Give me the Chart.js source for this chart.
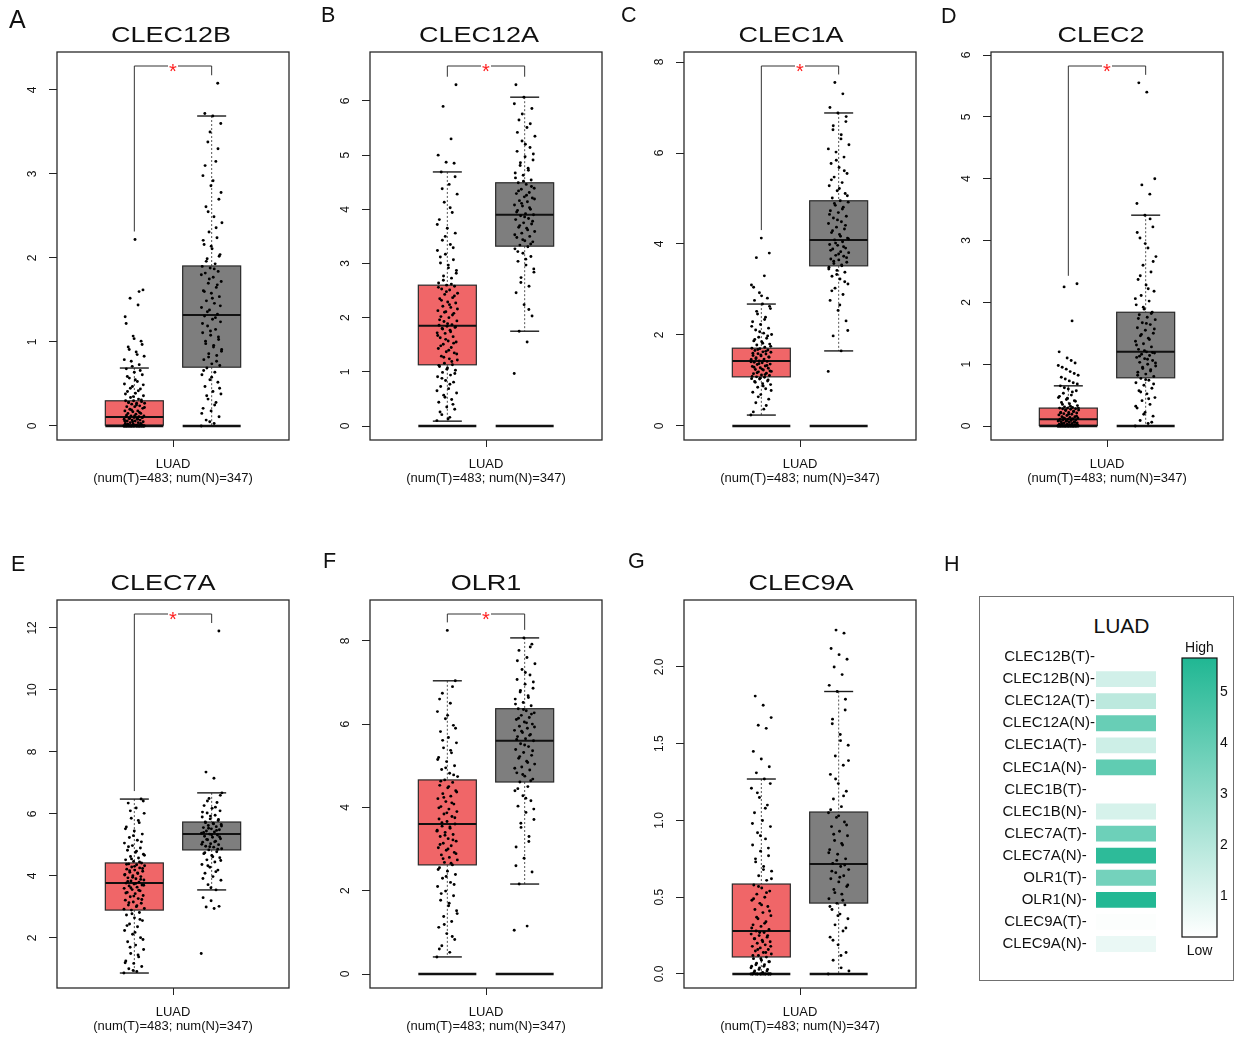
<!DOCTYPE html>
<html><head><meta charset="utf-8">
<script src="https://cdn.jsdelivr.net/npm/chart.js@4/dist/chart.umd.min.js"></script>
<style>
html,body{margin:0;padding:0;background:#fff}
body{width:1236px;height:1038px;overflow:hidden;position:relative;font-family:"Liberation Sans",Arial,Helvetica,sans-serif;color:#111}
canvas{position:absolute}
.t{position:absolute;white-space:nowrap;color:#111}
.hbox{position:absolute;border:1.5px solid #707070;box-sizing:border-box}
</style></head><body>
<script>
// ---------------- DATA ----------------
const genes = ['CLEC12B','CLEC12A','CLEC1A','CLEC2','CLEC7A','OLR1','CLEC9A'];
const panelLetters = ['A','B','C','D','E','F','G','H'];
const groupLabel = 'LUAD';
const countsLabel = '(num(T)=483; num(N)=347)';
const significant = [true,true,true,true,true,true,false];

// box statistics [lower whisker, Q1, median, Q3, upper whisker]
const boxT_CLEC12B = [0, 0.01, 0.107, 0.30, 0.69];
const boxN_CLEC12B = [0, 0.70, 1.32, 1.905, 3.69];
const boxT_CLEC12A = [0.09, 1.13, 1.85, 2.60, 4.69];
const boxN_CLEC12A = [1.75, 3.32, 3.90, 4.49, 6.07];
const boxT_CLEC1A = [0.24, 1.08, 1.43, 1.71, 2.68];
const boxN_CLEC1A = [1.65, 3.52, 4.09, 4.95, 6.88];
const boxT_CLEC2 = [0, 0.01, 0.11, 0.29, 0.65];
const boxN_CLEC2 = [0, 0.78, 1.20, 1.84, 3.41];
const boxT_CLEC7A = [0.87, 2.90, 3.77, 4.42, 6.48];
const boxN_CLEC7A = [3.55, 4.84, 5.35, 5.74, 6.68];
const boxT_OLR1 = [0.41, 2.62, 3.60, 4.66, 7.04];
const boxN_OLR1 = [2.16, 4.61, 5.60, 6.37, 8.07];
const boxT_CLEC9A = [0, 0.111, 0.28, 0.586, 1.27];
const boxN_CLEC9A = [0, 0.462, 0.717, 1.055, 1.84];

// individual sample values
const tumor_CLEC12B = [0,0,0,0,0,0,0,0,0,0,0,0,0,0,0,0,0,0,0,0,0,0,
 0.01,0.01,0.02,0.02,0.03,0.04,0.04,0.05,0.06,0.06,0.07,0.07,0.08,0.09,0.09,0.1,0.1,0.11,0.11,0.12,
 0.12,0.14,0.15,0.15,0.17,0.18,0.18,0.2,0.21,0.23,0.23,0.24,0.26,0.27,0.27,0.28,0.29,0.3,0.3,0.32,
 0.34,0.36,0.39,0.41,0.44,0.47,0.5,0.53,0.57,0.61,0.64,0.68,0.73,0.77,0.83,0.88,0.94,1.01,1.07,1.3,1.44,1.52,1.62,2.22,
 0,0,0,0,0,0,0,0,0,0,0,0,0.01,0.02,0.03,0.05,0.06,0.08,0.09,0.1,0.12,0.13,0.16,0.19,0.22,0.25,0.28,0.31,
 0.35,0.38,0.42,0.45,0.49,0.55,0.59,0.66,0.71,0.79,0.85,0.91,0.97,1.04,1.22,1.6];
const normal_CLEC12B = [0,0.03,0.07,0.11,0.18,0.21,0.28,0.32,0.38,0.41,0.47,0.52,0.55,0.61,0.64,0.69,
 0.72,0.74,0.79,0.84,0.86,0.91,0.96,0.98,1.03,1.08,1.11,1.15,1.19,1.24,1.27,1.31,
 1.33,1.38,1.41,1.46,1.49,1.54,1.58,1.61,1.65,1.7,1.72,1.77,1.82,1.84,1.88,1.9,
 1.93,1.99,2.04,2.11,2.16,2.24,2.31,2.42,2.49,2.61,2.7,2.86,2.98,3.15,3.38,3.6,3.69,3.72,4.08,
 0.05,0.15,0.25,0.36,0.45,0.58,0.66,0.77,0.82,0.89,0.94,1.01,1.06,1.13,1.22,1.29,1.36,1.43,1.52,1.6,
 1.68,1.75,1.8,1.87,1.96,2.02,2.14,2.21,2.36,2.55,2.78,2.92,3.1,3.3,3.5];
const tumor_CLEC12A = [0.1,0.16,0.21,0.31,0.35,0.44,0.49,0.57,0.61,0.69,0.73,0.81,0.84,0.91,0.94,0.99,1.03,1.07,1.1,1.13,
 1.16,1.22,1.24,1.29,1.35,1.37,1.43,1.45,1.51,1.55,1.57,1.63,1.65,1.71,1.72,1.77,1.8,1.82,1.84,1.86,
 1.87,1.93,1.94,2.0,2.02,2.08,2.11,2.13,2.19,2.21,2.27,2.29,2.35,2.37,2.43,2.45,2.51,2.53,2.58,2.6,
 2.64,2.73,2.77,2.87,2.92,3.01,3.07,3.17,3.24,3.35,3.43,3.56,3.65,3.81,3.94,4.13,4.28,4.46,4.69,4.85,4.87,5.0,5.3,5.9,6.3,
 0.13,0.26,0.4,0.53,0.65,0.77,0.88,0.97,1.05,1.12,1.19,1.27,1.33,1.4,1.48,1.53,1.6,1.67,1.74,1.79,1.83,
 1.89,1.96,2.05,2.1,2.16,2.24,2.32,2.4,2.48,2.56,2.62,2.69,2.82,2.97,3.12,3.29,3.5,3.72,4.03,4.38,4.6];
const normal_CLEC12A = [0.97,1.55,1.75,2.03,2.24,2.46,2.58,2.74,2.84,2.97,3.04,3.13,3.19,3.27,3.31,
 3.34,3.4,3.42,3.48,3.5,3.56,3.59,3.65,3.67,3.73,3.75,3.81,3.83,3.88,3.9,
 3.92,3.98,4.0,4.06,4.08,4.14,4.16,4.21,4.23,4.29,4.31,4.37,4.39,4.46,4.49,
 4.54,4.63,4.67,4.76,4.81,4.91,4.97,5.07,5.14,5.26,5.35,5.51,5.65,5.86,6.07,6.3,
 2.15,2.65,2.9,3.08,3.22,3.36,3.44,3.53,3.62,3.7,3.78,3.86,3.95,4.03,4.11,4.19,4.26,4.34,4.42,4.52,
 4.58,4.72,4.86,5.02,5.2,5.42,5.58,5.76,5.95];
const tumor_CLEC1A = [0.24,0.37,0.51,0.59,0.69,0.74,0.82,0.85,0.91,0.93,0.98,0.99,1.03,1.04,1.07,1.08,
 1.11,1.12,1.15,1.16,1.19,1.2,1.23,1.24,1.27,1.28,1.31,1.32,1.35,1.36,1.39,1.4,1.42,1.43,
 1.46,1.47,1.5,1.51,1.54,1.55,1.58,1.59,1.62,1.63,1.66,1.67,1.7,1.71,
 1.73,1.78,1.8,1.85,1.87,1.93,1.95,2.01,2.04,2.11,2.15,2.23,2.29,2.39,2.46,2.58,2.68,
 2.76,2.81,2.93,3.1,3.3,3.7,3.8,4.13,
 0.31,0.45,0.64,0.78,0.88,0.96,1.01,1.05,1.09,1.13,1.17,1.21,1.25,1.29,1.33,1.37,1.41,1.44,1.48,1.52,
 1.56,1.6,1.64,1.68,1.75,1.82,1.9,1.98,2.07,2.19,2.34,2.52,2.63,2.86,3.05];
const normal_CLEC1A = [1.2,1.65,1.98,2.31,2.54,2.76,2.89,3.03,3.12,3.23,3.29,3.38,3.42,3.49,3.52,
 3.57,3.6,3.65,3.67,3.73,3.75,3.81,3.83,3.89,3.91,3.97,3.99,4.05,4.09,
 4.13,4.21,4.25,4.33,4.37,4.45,4.49,4.57,4.61,4.69,4.73,4.81,4.85,4.92,4.95,
 5.01,5.11,5.17,5.28,5.35,5.47,5.55,5.68,5.77,5.91,6.02,6.18,6.31,6.51,6.69,6.88,7.0,7.3,7.55,
 2.1,2.66,2.97,3.17,3.33,3.45,3.54,3.62,3.7,3.78,3.86,3.94,4.02,4.11,4.17,4.29,4.41,4.53,4.65,4.77,
 4.89,5.06,5.22,5.41,5.61,5.84,6.09,6.4,6.6,6.8];
const tumor_CLEC2 = [0,0,0,0,0,0,0,0,0,0,0,0,0,0,0,0,0,0,0,0,0,0,
 0.01,0.01,0.02,0.03,0.03,0.04,0.05,0.05,0.06,0.07,0.07,0.08,0.08,0.09,0.1,0.1,0.11,0.11,0.12,0.12,
 0.13,0.14,0.15,0.15,0.17,0.18,0.19,0.2,0.21,0.22,0.22,0.24,0.25,0.26,0.27,0.28,0.28,0.29,0.29,0.3,
 0.31,0.33,0.36,0.38,0.41,0.43,0.46,0.5,0.53,0.57,0.6,0.65,0.7,0.76,0.82,0.88,0.95,1.02,1.1,1.2,1.7,2.25,2.3,
 0,0,0,0,0,0,0,0,0,0,0,0,0.01,0.02,0.04,0.06,0.08,0.09,0.11,0.13,0.16,0.19,0.21,0.23,0.26,0.29,
 0.32,0.35,0.4,0.45,0.48,0.55,0.62,0.68,0.73,0.79,0.85,0.92,0.98,1.06];
const normal_CLEC2 = [0,0.04,0.09,0.16,0.22,0.29,0.35,0.41,0.46,0.52,0.57,0.61,0.66,0.7,0.74,0.77,
 0.8,0.84,0.87,0.91,0.93,0.97,1.0,1.03,1.06,1.09,1.11,1.14,1.16,1.18,1.2,
 1.24,1.28,1.33,1.37,1.42,1.46,1.5,1.55,1.59,1.64,1.67,1.72,1.76,1.8,1.84,
 1.89,1.96,2.02,2.11,2.18,2.28,2.37,2.49,2.6,2.74,2.88,3.04,3.22,3.41,3.6,3.75,3.9,4.0,5.4,5.55,
 0.06,0.19,0.32,0.44,0.55,0.68,0.75,0.82,0.89,0.95,1.02,1.08,1.13,1.19,1.22,1.31,1.4,1.48,1.57,1.66,
 1.74,1.82,1.92,2.06,2.22,2.43,2.66,2.95,3.13,3.35];
const tumor_CLEC7A = [0.87,0.92,1.01,1.08,1.18,1.26,1.39,1.5,1.63,1.77,1.88,2.01,2.12,2.24,2.36,2.45,2.56,2.65,2.74,2.82,2.9,
 2.95,3.01,3.06,3.12,3.16,3.22,3.27,3.33,3.37,3.43,3.47,3.52,3.56,3.6,3.64,3.68,3.71,3.74,3.77,
 3.8,3.84,3.87,3.91,3.94,3.98,4.01,4.05,4.08,4.12,4.15,4.19,4.22,4.26,4.29,4.33,4.36,4.39,4.42,
 4.47,4.52,4.58,4.63,4.7,4.76,4.83,4.9,4.98,5.06,5.15,5.24,5.35,5.45,5.58,5.72,5.86,6.02,6.19,6.35,6.48,
 0.95,1.2,1.45,1.7,1.95,2.18,2.4,2.6,2.78,2.93,3.04,3.14,3.24,3.35,3.45,3.54,3.62,3.7,3.76,3.82,
 3.89,3.96,4.03,4.1,4.17,4.24,4.31,4.38,4.45,4.55,4.67,4.8,4.94,5.1,5.3,5.52,5.79,6.1,6.42];
const normal_CLEC7A = [1.5,2.95,3.0,3.02,3.2,3.3,3.55,3.72,3.86,3.98,4.09,4.19,4.28,4.37,4.45,4.52,4.59,4.66,4.72,4.78,4.84,
 4.88,4.93,4.96,5.01,5.04,5.09,5.12,5.17,5.2,5.25,5.28,5.32,5.35,
 5.38,5.42,5.45,5.49,5.52,5.56,5.59,5.63,5.66,5.7,5.74,
 5.79,5.84,5.9,5.96,6.03,6.1,6.18,6.27,6.37,6.5,6.68,7.15,7.35,11.9,
 3.62,3.92,4.14,4.33,4.5,4.62,4.75,4.86,4.94,5.02,5.1,5.18,5.26,5.33,5.4,5.47,5.54,5.61,5.68,5.72,
 5.82,5.93,6.06,6.22,6.42,6.6];
const tumor_OLR1 = [0.41,0.52,0.68,0.83,0.97,1.12,1.26,1.38,1.52,1.64,1.77,1.88,1.99,2.1,2.2,2.3,2.39,2.47,2.55,2.62,
 2.68,2.74,2.8,2.86,2.92,2.97,3.03,3.08,3.14,3.19,3.25,3.3,3.35,3.4,3.45,3.5,3.55,3.6,
 3.66,3.72,3.78,3.84,3.9,3.96,4.02,4.08,4.14,4.21,4.27,4.33,4.4,4.47,4.53,4.6,4.66,
 4.74,4.82,4.91,5.0,5.1,5.2,5.31,5.43,5.55,5.68,5.82,5.97,6.13,6.3,6.5,6.74,7.04,8.25,
 0.6,0.9,1.19,1.45,1.7,1.93,2.15,2.34,2.51,2.66,2.77,2.89,3.0,3.11,3.22,3.33,3.43,3.53,3.63,3.75,
 3.87,3.99,4.11,4.24,4.37,4.5,4.63,4.78,4.95,5.15,5.37,5.61,5.9,6.21,6.6,6.9];
const normal_OLR1 = [1.05,1.15,2.16,2.45,2.78,3.05,3.3,3.52,3.71,3.88,4.03,4.16,4.28,4.4,4.5,4.61,
 4.68,4.75,4.83,4.9,4.97,5.04,5.11,5.18,5.25,5.32,5.39,5.46,5.53,5.6,
 5.65,5.7,5.75,5.8,5.85,5.9,5.95,6.0,6.05,6.11,6.16,6.21,6.27,6.32,6.37,
 6.44,6.52,6.6,6.68,6.77,6.86,6.96,7.07,7.18,7.31,7.45,7.6,7.77,7.92,8.07,
 2.6,3.18,3.62,3.96,4.22,4.45,4.64,4.79,4.94,5.08,5.22,5.36,5.5,5.63,5.73,5.83,5.93,6.03,6.14,6.24,
 6.35,6.48,6.64,6.81,7.01,7.24,7.52,7.85];
const tumor_CLEC9A = [0,0,0,0,0,0,0,0,0,0.01,0.02,0.03,0.04,0.05,0.06,0.07,0.08,0.09,0.1,0.11,
 0.12,0.13,0.14,0.15,0.16,0.17,0.18,0.19,0.2,0.21,0.22,0.23,0.24,0.25,0.26,0.27,0.28,
 0.29,0.31,0.32,0.34,0.36,0.38,0.4,0.42,0.44,0.46,0.48,0.5,0.52,0.54,0.56,0.58,
 0.61,0.64,0.67,0.7,0.73,0.77,0.8,0.84,0.88,0.92,0.96,1.0,1.05,1.1,1.15,1.21,1.27,
 1.31,1.35,1.4,1.45,1.6,1.62,1.67,1.75,1.81,
 0,0,0,0,0,0,0,0.01,0.02,0.03,0.04,0.05,0.06,0.08,0.1,0.12,0.14,0.16,0.18,0.21,
 0.23,0.25,0.27,0.3,0.33,0.37,0.41,0.45,0.49,0.53,0.57,0.62,0.68,0.75,0.82,0.9,0.98,1.08,1.18,1.24];
const normal_CLEC9A = [0,0.04,0.09,0.14,0.19,0.24,0.28,0.32,0.36,0.39,0.42,0.45,0.46,
 0.49,0.52,0.55,0.57,0.6,0.62,0.64,0.66,0.68,0.7,0.72,
 0.75,0.78,0.81,0.84,0.87,0.9,0.93,0.96,0.99,1.02,1.05,
 1.09,1.14,1.19,1.24,1.3,1.36,1.42,1.49,1.56,1.63,1.72,1.84,1.88,1.95,2.0,2.05,2.08,2.12,2.22,2.24,
 0.02,0.12,0.22,0.3,0.38,0.44,0.48,0.53,0.58,0.63,0.67,0.71,0.74,0.79,0.85,0.91,0.97,1.03,1.07,1.16,
 1.27,1.39,1.52,1.66,1.79];

// y tick labels
const yTicks_CLEC12B = ['0','1','2','3','4'];
const yTicks_CLEC12A = ['0','1','2','3','4','5','6'];
const yTicks_CLEC1A = ['0','2','4','6','8'];
const yTicks_CLEC2 = ['0','1','2','3','4','5','6'];
const yTicks_CLEC7A = ['2','4','6','8','10','12'];
const yTicks_OLR1 = ['0','2','4','6','8'];
const yTicks_CLEC9A = ['0.0','0.5','1.0','1.5','2.0'];

// heatmap panel H
const heatTitle = 'LUAD';
const heatLabels = ['CLEC12B(T)','CLEC12B(N)','CLEC12A(T)','CLEC12A(N)','CLEC1A(T)','CLEC1A(N)','CLEC1B(T)',
  'CLEC1B(N)','CLEC7A(T)','CLEC7A(N)','OLR1(T)','OLR1(N)','CLEC9A(T)','CLEC9A(N)'];
const heatValues = [0.107,1.32,1.85,3.90,1.43,4.09,0.11,1.20,3.77,5.35,3.60,5.60,0.28,0.717];
const legendRange = [0.2, 5.67];
const legendTicks = ['1','2','3','4','5'];
const legendHigh = 'High', legendLow = 'Low';

// ---------------- LAYOUT / STYLE ----------------
const FONT = '"Liberation Sans", Arial, Helvetica, sans-serif';
Chart.defaults.font.family = FONT;
Chart.defaults.color = '#111';
const colT = '#F06668', colN = '#7E7E7E';
const lowRGB = [255,255,255], highRGB = [32,183,147];
const FRAME_W = 232, FRAME_H = 388;
const layout = [
  {left:57,  top:52,  yMin:-0.1667, yMax:4.452, titleDx:-2},
  {left:370, top:52,  yMin:-0.258,  yMax:6.904, titleDx:-7},
  {left:684, top:52,  yMin:-0.308,  yMax:8.22,  titleDx:-9},
  {left:991, top:52,  yMin:-0.226,  yMax:6.049, titleDx:-6},
  {left:57,  top:600, yMin:0.387,   yMax:12.90, titleDx:-10},
  {left:370, top:600, yMin:-0.336,  yMax:8.98,  titleDx:0},
  {left:684, top:600, yMin:-0.0912, yMax:2.436, titleDx:1}
];
const letterPos = [[9,10,25],[321,8.3,21.5],[621,8.3,21.5],[941,9.3,21.5],[11,557,21.5],[323,554,21.5],[628,554,21.5],[944,557,21.5]];

const panels = [
  {gene:genes[0], T:tumor_CLEC12B, N:normal_CLEC12B, bT:boxT_CLEC12B, bN:boxN_CLEC12B, ticks:yTicks_CLEC12B, sig:significant[0]},
  {gene:genes[1], T:tumor_CLEC12A, N:normal_CLEC12A, bT:boxT_CLEC12A, bN:boxN_CLEC12A, ticks:yTicks_CLEC12A, sig:significant[1]},
  {gene:genes[2], T:tumor_CLEC1A,  N:normal_CLEC1A,  bT:boxT_CLEC1A,  bN:boxN_CLEC1A,  ticks:yTicks_CLEC1A,  sig:significant[2]},
  {gene:genes[3], T:tumor_CLEC2,   N:normal_CLEC2,   bT:boxT_CLEC2,   bN:boxN_CLEC2,   ticks:yTicks_CLEC2,   sig:significant[3]},
  {gene:genes[4], T:tumor_CLEC7A,  N:normal_CLEC7A,  bT:boxT_CLEC7A,  bN:boxN_CLEC7A,  ticks:yTicks_CLEC7A,  sig:significant[4]},
  {gene:genes[5], T:tumor_OLR1,    N:normal_OLR1,    bT:boxT_OLR1,    bN:boxN_OLR1,    ticks:yTicks_OLR1,    sig:significant[5]},
  {gene:genes[6], T:tumor_CLEC9A,  N:normal_CLEC9A,  bT:boxT_CLEC9A,  bN:boxN_CLEC9A,  ticks:yTicks_CLEC9A,  sig:significant[6]}
];

function addText(txt, x, capCenterY, size, opt) {
  opt = opt || {};
  const d = document.createElement('div');
  d.className = 't';
  d.textContent = txt;
  d.style.fontSize = size + 'px';
  d.style.lineHeight = size + 'px';
  d.style.top = (capCenterY - 0.4885 * size) + 'px';
  d.style.left = x + 'px';
  if (opt.center) d.style.transform = 'translateX(-50%) scaleX(' + (opt.sx || 1) + ')';
  document.body.appendChild(d);
}
function makeCanvas(l, t, w, h) {
  const c = document.createElement('canvas');
  c.width = w; c.height = h;
  c.style.left = l + 'px'; c.style.top = t + 'px';
  c.style.width = w + 'px'; c.style.height = h + 'px';
  document.body.appendChild(c);
  return c;
}
const mctx = document.createElement('canvas').getContext('2d');
function textW(s, size) { mctx.font = size + 'px ' + FONT; return mctx.measureText(s).width; }
function jitter(i) { return ((i * 0.6180339887) % 1 - 0.5) * 0.27; }
const BOX_HALF = 0.375;
const Y_FONT = 12;

function boxPlugin(p) {
  function line(ctx, x1, y1, x2, y2) { ctx.beginPath(); ctx.moveTo(x1, y1); ctx.lineTo(x2, y2); ctx.stroke(); }
  return {
    id: 'boxplot',
    beforeDatasetsDraw(chart) {
      const {ctx, scales: {x, y}} = chart;
      ctx.save();
      [p.bT, p.bN].forEach((s, gi) => {
        const g = gi + 1;
        const cx = x.getPixelForValue(g);
        const hw = x.getPixelForValue(g + BOX_HALF) - cx;
        const [lo, q1, med, q3, hi] = s.map(v => y.getPixelForValue(v));
        ctx.strokeStyle = '#555'; ctx.lineWidth = 1; ctx.setLineDash([2, 2]);
        line(ctx, cx, hi, cx, q3); line(ctx, cx, q1, cx, lo);
        ctx.setLineDash([]);
        ctx.strokeStyle = '#1a1a1a'; ctx.lineWidth = 1.4;
        line(ctx, cx - hw / 2, hi, cx + hw / 2, hi);
        line(ctx, cx - hw / 2, lo, cx + hw / 2, lo);
        ctx.fillStyle = gi === 0 ? colT : colN;
        ctx.fillRect(cx - hw, q3, 2 * hw, q1 - q3);
        ctx.strokeStyle = '#2a2a2a'; ctx.lineWidth = 1.2;
        ctx.strokeRect(cx - hw, q3, 2 * hw, q1 - q3);
        ctx.strokeStyle = '#111'; ctx.lineWidth = 2;
        line(ctx, cx - hw, med, cx + hw, med);
        const z = y.getPixelForValue(0);
        if (z <= chart.chartArea.bottom) { ctx.strokeStyle = '#111'; ctx.lineWidth = 2.4; line(ctx, cx - hw, z, cx + hw, z); }
      });
      ctx.restore();
    },
    afterDatasetsDraw(chart) {
      const {ctx, scales: {x, y}, chartArea: ca} = chart;
      ctx.save();
      if (p.sig) {
        const xl = x.getPixelForValue(1), xr = x.getPixelForValue(2), xm = (xl + xr) / 2;
        const yt = ca.top + 14;
        const yl = Math.max(yt + 8, y.getPixelForValue(Math.max(...p.T)) - 8);
        const yr = Math.max(yt + 8, y.getPixelForValue(Math.max(...p.N)) - 8);
        ctx.strokeStyle = '#333'; ctx.lineWidth = 1;
        ctx.beginPath(); ctx.moveTo(xl, yl); ctx.lineTo(xl, yt); ctx.lineTo(xm - 5, yt); ctx.stroke();
        ctx.beginPath(); ctx.moveTo(xm + 5, yt); ctx.lineTo(xr, yt); ctx.lineTo(xr, yr); ctx.stroke();
        ctx.fillStyle = '#FF2020'; ctx.font = '20px ' + FONT; ctx.textAlign = 'center'; ctx.textBaseline = 'alphabetic';
        ctx.fillText('*', xm, yt + 12);
      }
      ctx.restore();
    },
    afterDraw(chart) {
      const {ctx, chartArea: ca} = chart;
      ctx.save();
      ctx.strokeStyle = '#2a2a2a'; ctx.lineWidth = 1.3;
      ctx.strokeRect(ca.left, ca.top, ca.right - ca.left, ca.bottom - ca.top);
      ctx.restore();
    }
  };
}

panels.forEach((p, k) => {
  const L = layout[k];
  const W = 57 + FRAME_W + 10, H = 490;
  const cv = makeCanvas(L.left - 57, L.top - 52, W, H);
  const tickVals = p.ticks.map(Number);
  const widest = Math.max(...p.ticks.map(s => textW(s, Y_FONT)));
  const yPad = 24 - 8 - widest / 2;
  new Chart(cv, {
    type: 'scatter',
    data: { datasets: [
      { data: p.T.map((v, i) => ({x: 1 + jitter(i), y: v})), pointRadius: 1.45, backgroundColor: '#000', borderWidth: 0 },
      { data: p.N.map((v, i) => ({x: 2 + jitter(i), y: v})), pointRadius: 1.45, backgroundColor: '#000', borderWidth: 0 }
    ]},
    options: {
      responsive: false, devicePixelRatio: 1, animation: false, events: [],
      layout: { padding: { top: 52, right: 10, left: 0, bottom: 0 } },
      plugins: { legend: { display: false }, tooltip: { enabled: false } },
      scales: {
        x: {
          type: 'linear', min: 0, max: 3,
          afterFit(s) { s.height = 50; },
          afterBuildTicks(s) { s.ticks = [{value: 1.5}]; },
          grid: { drawOnChartArea: false, drawTicks: true, tickLength: 7, color: '#222' },
          border: { display: false },
          ticks: { callback: () => [groupLabel, countsLabel], font: { size: 13, lineHeight: '14px' }, padding: 10,
                   minRotation: 0, maxRotation: 0, autoSkip: false, color: '#111' }
        },
        y: {
          type: 'linear', min: L.yMin, max: L.yMax,
          afterFit(s) { s.width = 57; },
          afterBuildTicks(s) { s.ticks = tickVals.map(v => ({value: v})); },
          grid: { drawOnChartArea: false, drawTicks: true, tickLength: 8, color: '#222' },
          border: { display: false },
          ticks: { callback: (v, i) => p.ticks[i], font: { size: Y_FONT }, minRotation: 90, maxRotation: 90,
                   crossAlign: 'center', padding: yPad, autoSkip: false, color: '#111' }
        }
      }
    },
    plugins: [boxPlugin(p)]
  });
  addText(p.gene, L.left + FRAME_W / 2 + L.titleDx, L.top - 17, 22.5, {center: true, sx: 1.2});
});

panelLetters.forEach((s, i) => {
  const [x, capTop, size] = letterPos[i];
  addText(s, x, capTop + 0.358 * size, size);
});

// ---------------- PANEL H ----------------
function heatColor(v) {
  const t = Math.max(0, Math.min(1, (v - legendRange[0]) / (legendRange[1] - legendRange[0])));
  const c = lowRGB.map((a, i) => Math.round(a + (highRGB[i] - a) * t));
  return 'rgb(' + c.join(',') + ')';
}
const hb = document.createElement('div');
hb.className = 'hbox';
hb.style.left = '979px'; hb.style.top = '596px'; hb.style.width = '255px'; hb.style.height = '385px';
document.body.appendChild(hb);
addText(heatTitle, 1121.5, 625.5, 21, {center: true});

const hc = makeCanvas(985, 600, 176, 365);
new Chart(hc, {
  type: 'bar',
  data: { labels: heatLabels, datasets: [{ data: heatLabels.map(() => 1), backgroundColor: heatValues.map(heatColor),
          barPercentage: 0.72, categoryPercentage: 1, borderWidth: 0 }] },
  options: {
    indexAxis: 'y', responsive: false, devicePixelRatio: 1, animation: false, events: [],
    layout: { padding: { top: 46, right: 5, bottom: 10, left: 0 } },
    plugins: { legend: { display: false }, tooltip: { enabled: false } },
    scales: {
      x: { display: false, min: 0, max: 1 },
      y: {
        afterFit(s) { s.width = 111; },
        grid: { display: false, drawTicks: false }, border: { display: false },
        ticks: { font: { size: 15 }, color: '#111', padding: 1, autoSkip: false,
                 callback: (v, i) => heatLabels[i] + '-' + (heatLabels[i].length < 10 ? '  ' : '') }
      }
    }
  }
});

const lc = makeCanvas(1170, 630, 66, 335);
new Chart(lc, {
  type: 'scatter',
  data: { datasets: [] },
  options: {
    responsive: false, devicePixelRatio: 1, animation: false, events: [],
    layout: { padding: { left: 12, right: 0, top: 0, bottom: 0 } },
    plugins: {
      legend: { display: false }, tooltip: { enabled: false },
      title: { display: true, text: legendHigh, fullSize: false, font: { size: 14, weight: 'normal' }, color: '#111', padding: { top: 9.6, bottom: 1.6 } },
      subtitle: { display: true, text: legendLow, position: 'bottom', fullSize: false, font: { size: 14, weight: 'normal' }, color: '#111', padding: { top: 5.6, bottom: 5.6 } }
    },
    scales: {
      x: { display: false, min: 0, max: 1 },
      y: {
        position: 'right', min: legendRange[0], max: legendRange[1],
        afterFit(s) { s.width = 19; },
        afterBuildTicks(s) { s.ticks = legendTicks.map(v => ({value: Number(v)})); },
        grid: { display: false, drawTicks: false }, border: { display: false },
        ticks: { callback: (v, i) => legendTicks[i], font: { size: 14 }, color: '#111', padding: 3, autoSkip: false }
      }
    }
  },
  plugins: [{
    id: 'gradbar',
    beforeDatasetsDraw(chart) {
      const {ctx, chartArea: ca, scales: {y}} = chart;
      const yt = y.getPixelForValue(legendRange[1]), yb = y.getPixelForValue(legendRange[0]);
      const g = ctx.createLinearGradient(0, yt, 0, yb);
      g.addColorStop(0, heatColor(legendRange[1]));
      g.addColorStop(1, heatColor(legendRange[0]));
      ctx.save();
      ctx.fillStyle = g;
      ctx.fillRect(ca.left, yt, ca.right - ca.left, yb - yt);
      ctx.strokeStyle = '#111'; ctx.lineWidth = 1.2;
      ctx.strokeRect(ca.left, yt, ca.right - ca.left, yb - yt);
      ctx.restore();
    }
  }]
});
</script>
</body></html>
